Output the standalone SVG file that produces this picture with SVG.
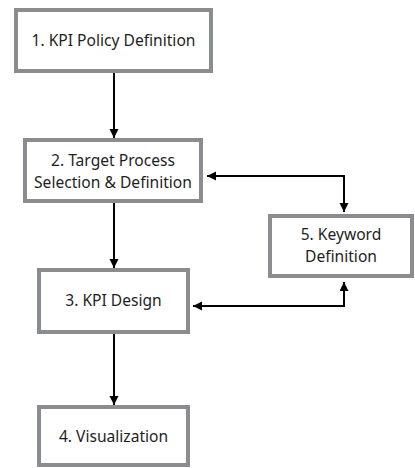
<svg xmlns="http://www.w3.org/2000/svg" width="415" height="468" viewBox="0 0 415 468">
<style>
.box{fill:#fff;stroke:#8a8c8f;stroke-width:4}
.t{font-family:"Noto Sans","Open Sans",sans-serif;font-size:15.6px;fill:#1e1e1e;text-anchor:middle}
.c{fill:none;stroke:#000;stroke-width:2}
</style>
<defs>
<marker id="ah" markerUnits="userSpaceOnUse" markerWidth="10" markerHeight="10" refX="9" refY="4.5" orient="auto-start-reverse">
<path d="M0,0 L9,4.5 L0,9 Z" fill="#000"/>
</marker>
</defs>
<rect width="415" height="468" fill="#fff"/>
<g id="connectors">
<path class="c" d="M114,73 V138" marker-end="url(#ah)"/>
<path class="c" d="M114,203 V268" marker-end="url(#ah)"/>
<path class="c" d="M114,334 V405" marker-end="url(#ah)"/>
<path class="c" d="M207,176 H344 V212" marker-start="url(#ah)" marker-end="url(#ah)"/>
<path class="c" d="M193,306 H344 V282" marker-start="url(#ah)" marker-end="url(#ah)"/>
</g>
<g id="node1">
<rect class="box" x="16" y="10" width="195" height="61"/>
<text class="t" x="113.5" y="46">1. KPI Policy Definition</text>
</g>
<g id="node2">
<rect class="box" x="25" y="140" width="176" height="61"/>
<text class="t" x="113" y="166">2. Target Process</text>
<text class="t" x="113" y="188">Selection &amp; Definition</text>
</g>
<g id="node3">
<rect class="box" x="39" y="270" width="149" height="62"/>
<text class="t" x="113.5" y="306">3. KPI Design</text>
</g>
<g id="node4">
<rect class="box" x="39" y="407" width="149" height="58"/>
<text class="t" x="113.5" y="442">4. Visualization</text>
</g>
<g id="node5">
<rect class="box" x="270" y="216" width="142" height="60"/>
<text class="t" x="341" y="240">5. Keyword</text>
<text class="t" x="341" y="262">Definition</text>
</g>
</svg>
